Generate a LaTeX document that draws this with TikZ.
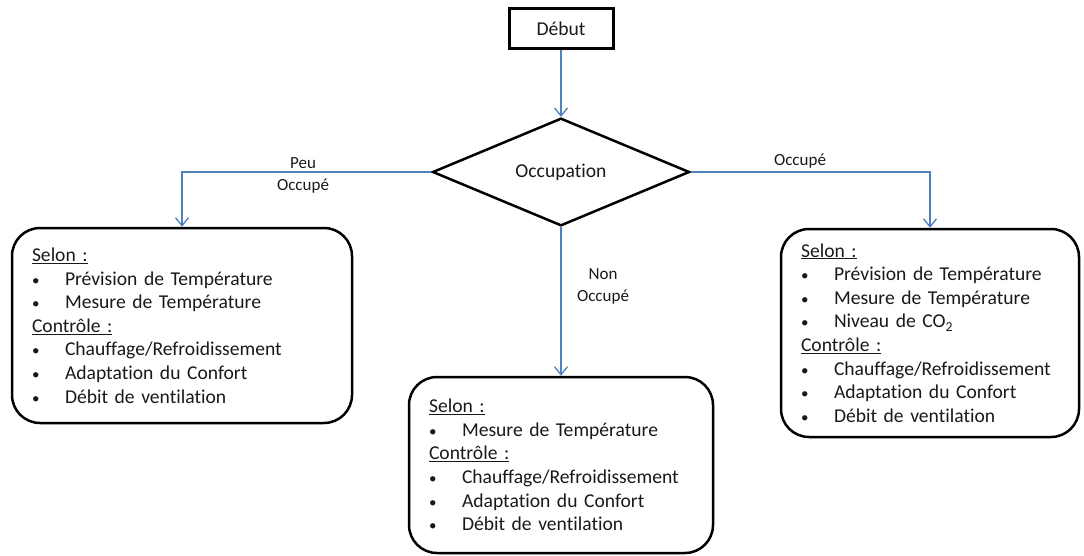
\documentclass[tikz,border=0pt]{standalone}
\usepackage{fontspec}
\setmainfont{Carlito}[Ligatures=NoCommon]
\usetikzlibrary{arrows.meta,shapes.geometric}

\definecolor{lienbleu}{RGB}{79,129,189}
\newcommand{\puce}{\makebox[33pt][l]{\fontsize{15}{15}\selectfont\textbullet}}
\newcommand{\titre}[1]{\underline{#1}}

\begin{document}
\begin{tikzpicture}[x=1pt, y=-1pt,
  txt/.style={font=\fontsize{19.6}{23.6}\selectfont, text=black!90},
  debutbox/.style={draw, txt, line width=3pt, minimum width=104pt,
                   minimum height=40pt, inner sep=0pt},
  choix/.style={draw, diamond, txt, line width=2.5pt, minimum width=257pt,
                minimum height=86pt, inner sep=0pt},
  bloc/.style={draw, txt, line width=2.5pt, rounded corners=28pt, align=left,
               inner xsep=20pt, inner ysep=0pt},
  fleche/.style={draw=lienbleu, line width=1.3pt,
                 -{Straight Barb[length=8pt,width=13pt]}},
  etiq/.style={font=\fontsize{17}{22}\selectfont, text=black!90, align=center},
]
\useasboundingbox (0,0) rectangle (1084,555);

% noeuds
\node[debutbox] (debut) at (561,28.5) {Début};
\node[choix] (occ) at (561,172) {Occupation};

\node[bloc, text width=300pt, minimum height=195pt] (gauche) at (182,325.5)
  {\titre{Selon :}\\
   \puce Prévision de Température\\
   \puce Mesure de Température\\
   \titre{Contrôle :}\\
   \puce Chauffage/Refroidissement\\
   \puce Adaptation du Confort\\
   \puce Débit de ventilation};

\node[bloc, text width=264pt, minimum height=176pt] (milieu) at (561,465)
  {\titre{Selon :}\\
   \puce Mesure de Température\\
   \titre{Contrôle :}\\
   \puce Chauffage/Refroidissement\\
   \puce Adaptation du Confort\\
   \puce Débit de ventilation};

\node[bloc, text width=258pt, minimum height=208pt] (droite) at (930,333)
  {\titre{Selon :}\\
   \puce Prévision de Température\\
   \puce Mesure de Température\\
   \puce Niveau de CO\textsubscript{2}\\
   \titre{Contrôle :}\\
   \puce Chauffage/Refroidissement\\
   \puce Adaptation du Confort\\
   \puce Débit de ventilation};

% liens
\draw[fleche] (debut) -- (occ);
\draw[fleche] (occ.west) -| (gauche.north);
\draw[fleche] (occ.east) -| (droite.north);
\draw[fleche] (occ) -- (milieu);

% etiquettes
\node[etiq] (peu) at (303,175) {Peu\\Occupé};
\node[etiq] (non) at (603,286) {Non\\Occupé};
\node[etiq] (oui) at (800,161) {Occupé};
\end{tikzpicture}
\end{document}
